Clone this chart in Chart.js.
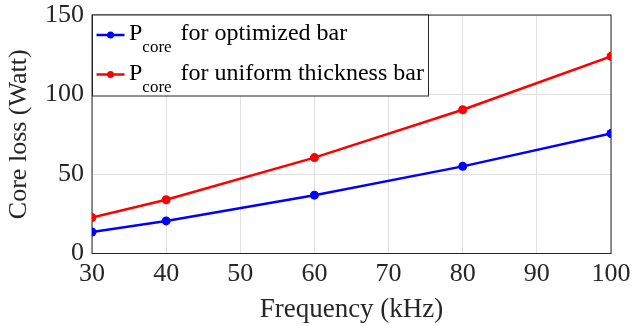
<!DOCTYPE html>
<html>
<head>
<meta charset="utf-8">
<script src="https://cdn.jsdelivr.net/npm/chart.js@4/dist/chart.umd.min.js"></script>
<style>
  html, body { margin: 0; padding: 0; background: #fff; }
  #wrap { width: 639px; height: 326px; }
</style>
</head>
<body>
<div id="wrap"><canvas id="myChart" width="639" height="326"></canvas></div>
<script>
const frequency = [30, 40, 60, 80, 100];
const optimized = [13.5, 20.5, 36.7, 54.8, 75.5];
const uniform = [22.6, 33.8, 60.3, 90.4, 124.0];
const legendLabels = ['for optimized bar', 'for uniform thickness bar'];
const COLORS = ['rgb(0, 0, 255)', 'rgb(255, 0, 0)'];
const FONT = "'Liberation Serif', 'Times New Roman', serif";

// legend with subscript, drawn on the canvas
const subLegend = {
  id: 'subLegend',
  afterDraw(chart) {
    const ctx = chart.ctx;
    const area = chart.chartArea;
    const x0 = area.left + 0.5, y0 = area.top;
    ctx.save();
    ctx.fillStyle = '#fff';
    ctx.fillRect(x0, y0, 336, 81);
    ctx.strokeStyle = '#262626';
    ctx.lineWidth = 1;
    ctx.strokeRect(x0, y0, 336, 81);
    chart.data.datasets.forEach((ds, i) => {
      const yl = y0 + 20 + i * 39.5;
      ctx.strokeStyle = ds.borderColor;
      ctx.lineWidth = 2.5;
      ctx.beginPath();
      ctx.moveTo(x0 + 4, yl);
      ctx.lineTo(x0 + 32, yl);
      ctx.stroke();
      ctx.fillStyle = ds.borderColor;
      ctx.beginPath();
      ctx.arc(x0 + 18, yl, 3.5, 0, Math.PI * 2);
      ctx.fill();
      ctx.fillStyle = '#000';
      ctx.textBaseline = 'alphabetic';
      ctx.font = '24px ' + FONT;
      let x = x0 + 36.5;
      ctx.fillText('P', x, yl + 5);
      x += ctx.measureText('P').width;
      ctx.font = '17px ' + FONT;
      ctx.fillText('core', x, yl + 17);
      x += ctx.measureText('core').width + 9;
      ctx.font = '24px ' + FONT;
      ctx.fillText(legendLabels[i], x, yl + 5);
    });
    ctx.restore();
  }
};

// box round the plot area
const frame = {
  id: 'frame',
  beforeDatasetsDraw(chart) {
    const a = chart.chartArea, ctx = chart.ctx;
    ctx.save();
    ctx.strokeStyle = '#262626';
    ctx.lineWidth = 1;
    ctx.strokeRect(a.left, a.top, a.right - a.left, a.bottom - a.top);
    ctx.restore();
  }
};

const ctx = document.getElementById('myChart').getContext('2d');
new Chart(ctx, {
  type: 'line',
  data: {
    datasets: [
      { label: 'Pcore for optimized bar', data: frequency.map((f, i) => ({ x: f, y: optimized[i] })) },
      { label: 'Pcore for uniform thickness bar', data: frequency.map((f, i) => ({ x: f, y: uniform[i] })) },
    ].map((d, i) => Object.assign(d, {
      borderColor: COLORS[i],
      backgroundColor: COLORS[i],
      borderWidth: 2.5,
      pointRadius: 4.5,
      pointBorderWidth: 0,
      fill: false,
    }))
  },
  options: {
    responsive: false,
    animation: false,
    layout: { padding: { top: 15, right: 28, left: 0, bottom: 0 } },
    plugins: { legend: { display: false }, tooltip: { enabled: false } },
    scales: {
      x: {
        type: 'linear',
        min: 30,
        max: 100,
        ticks: { stepSize: 10, color: '#262626', font: { family: FONT, size: 26 }, padding: 5 },
        grid: { color: '#e0e0e0', drawTicks: false },
        border: { display: false },
        title: { display: true, text: 'Frequency (kHz)', color: '#262626', font: { family: FONT, size: 27 }, padding: { top: 0, bottom: 0 } },
        afterFit(scale) { scale.height = 72.5; scale.paddingLeft = 0; scale.paddingRight = 0; }
      },
      y: {
        min: 0,
        max: 150,
        ticks: { stepSize: 50, color: '#262626', font: { family: FONT, size: 26 }, padding: 8 },
        grid: { color: '#e0e0e0', drawTicks: false },
        border: { display: false },
        title: { display: true, text: 'Core loss (Watt)', color: '#262626', font: { family: FONT, size: 26 }, padding: { top: 4, bottom: 0 } },
        afterFit(scale) { scale.width = 92; scale.paddingTop = 0; scale.paddingBottom = 0; }
      }
    }
  },
  plugins: [frame, subLegend]
});
</script>
</body>
</html>
